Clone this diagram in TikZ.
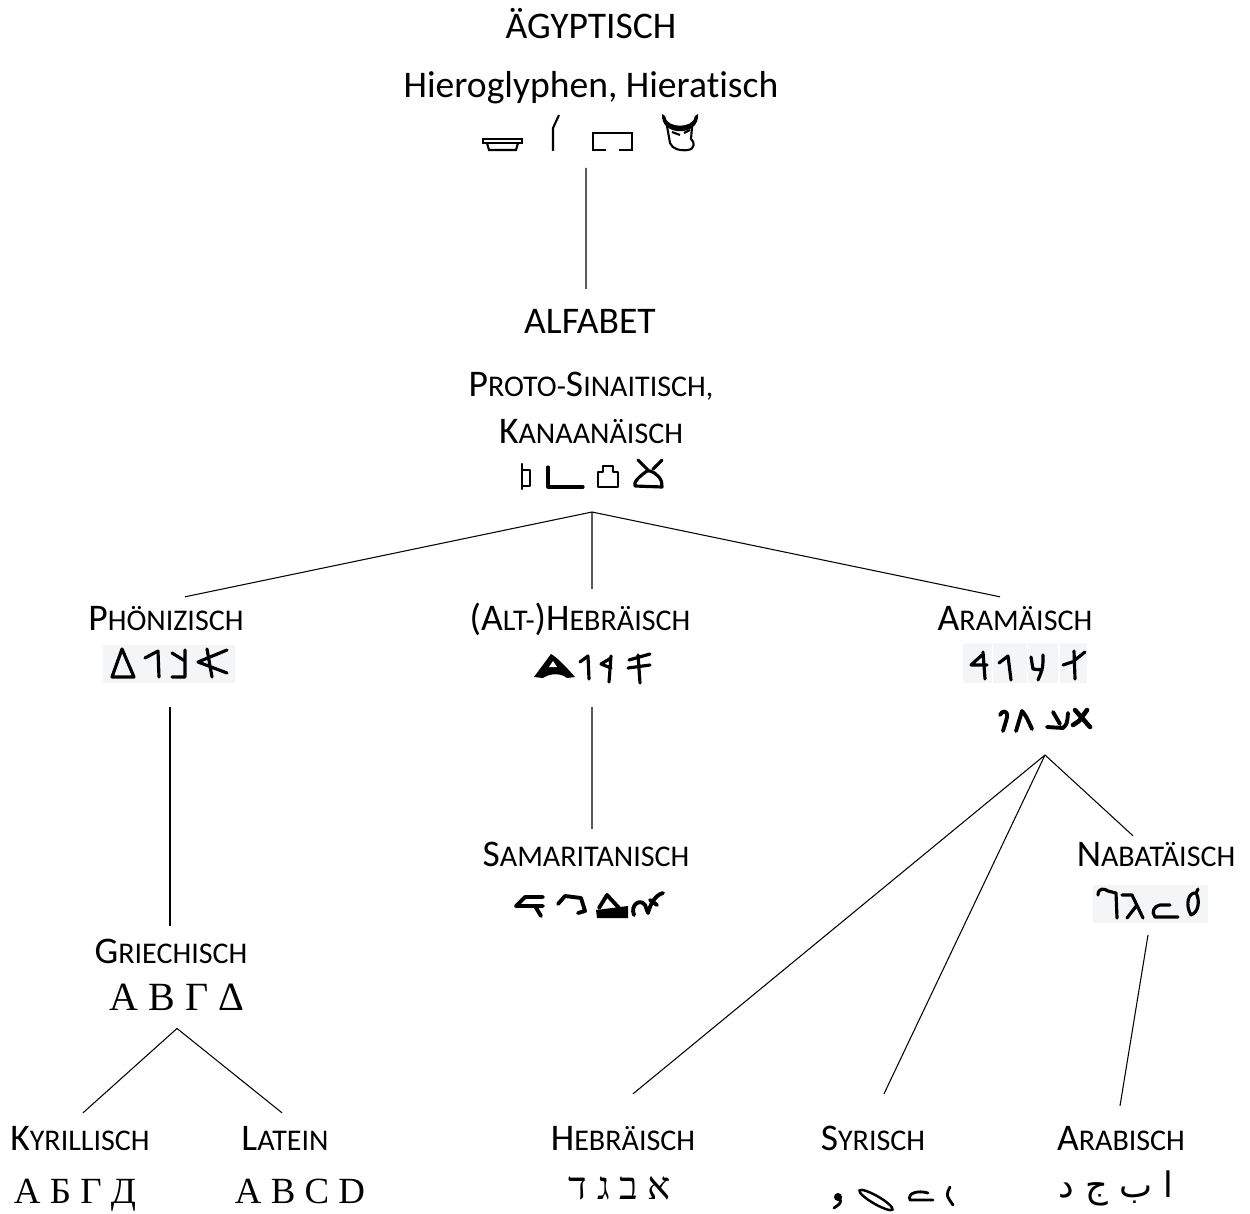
\documentclass[tikz,border=0pt]{standalone}
\usepackage{fontspec}
\setmainfont{Carlito}[Ligatures=CommonOff]
\newfontfamily\serifschrift{Liberation Serif}
\newfontfamily\hebrschrift[Script=Hebrew]{Liberation Serif}
\newfontfamily\arabschrift[Script=Arabic]{DejaVu Sans}
\TeXXeTstate=1
\usetikzlibrary{positioning}
\newcommand{\gross}[1]{{\fontsize{21.4}{25}\selectfont #1}}
\newcommand{\klein}[1]{{\fontsize{17.1}{20}\selectfont #1}}
\definecolor{kasten}{RGB}{244,245,247}
\tikzset{
  schrift/.style={anchor=base, inner sep=0pt, text height=13pt, text depth=0pt, font=\fontsize{21.4}{25}\selectfont},
  buchst/.style={anchor=base, inner sep=0pt, font=\serifschrift\fontsize{21}{25}\selectfont},
  zeichen/.style={inner sep=0pt, outer sep=0pt},
  linie/.style={line width=0.6pt},
  strich/.style={line width=1.8pt, line cap=round, line join=round},
  duenn/.style={line width=1.3pt, line cap=round, line join=round},
  hiero/.style={line width=1.2pt, line join=miter}
}

\begin{document}
\begin{tikzpicture}[x=0.02cm, y=-0.02cm]
\useasboundingbox (0,0) rectangle (1250,1213);

% Aegyptisch
\node[schrift] (aegypt) at (591,39) {ÄGYPTISCH};
\node[schrift] (hierat) at (591,98) {Hieroglyphen, Hieratisch};
\node[zeichen, minimum width=4.6cm, minimum height=1.12cm] (hierozeichen) at (586,140) {};
\draw[hiero] (483,139) rectangle (522,143);
\draw[hiero] (487,143) -- (489,150) -- (516,150) -- (518,143);
\draw[hiero] (553,151) -- (553,128) -- (559,115);
\draw[hiero] (606,150) -- (593,150) -- (593,133) -- (632,133) -- (632,150) -- (619,150);
\fill (662,114) .. controls (660,137) and (700,137) .. (698,114) -- (695,116) .. controls (694,129) and (666,129) .. (665,116) -- cycle; % Hoerner
\draw[hiero] (667,126) -- (670,143) .. controls (672,149) and (680,151) .. (688,150) .. controls (695,149) and (695,142) .. (691,139) -- (692,127);
\draw[hiero] (672,132) -- (680,135) (684,133) -- (690,130);

% Alfabet
\node[schrift] (alfabet) at (590,333) {ALFABET};
\node[schrift] (proto) at (591,396) {\gross{P}\klein{ROTO-}\gross{S}\klein{INAITISCH,}};
\node[schrift] (kanaan) at (591,443) {\gross{K}\klein{ANAANÄISCH}};
\node[zeichen, minimum width=3cm, minimum height=0.96cm] (kanzeichen) at (592,488) {};
\draw[duenn] (522,464) -- (522,489) (522,470) -- (530,470) -- (530,486) -- (522,486);
\draw[strich] (548,467) -- (548,487) -- (583,487);
\draw[duenn] (598,487) -- (598,472) -- (603,472) -- (603,466) -- (613,466) -- (613,472) -- (618,472) -- (618,487) -- cycle;
\draw[strich] (638,460) -- (648,470) (662,460) -- (653,469);
\draw[strich] (647,471) .. controls (640,476) and (633,482) .. (635,486) -- (662,487) .. controls (663,480) and (657,473) .. (650,471) -- cycle;

% Phoenizisch
\node[schrift] (phoen) at (166,630) {\gross{P}\klein{HÖNIZISCH}};
\node[zeichen, minimum width=2.7cm, minimum height=1.24cm] (phoenzeichen) at (170,676) {};
\fill[kasten] (103,645) rectangle (235,683);
\draw[strich] (112,677) -- (122,649) -- (134,677) -- cycle;
\draw[strich] (145,658) -- (158,651) -- (159,677);
\draw[strich] (172,653) -- (185,661) (185,650) -- (185,677) -- (172,677);
\draw[strich] (227,650) -- (198,662) -- (227,673) (207,649) -- (212,677);

% Alt-Hebraeisch
\node[schrift] (althebr) at (580,630) {\gross{(A}\klein{LT-}\gross{)H}\klein{EBRÄISCH}};
\node[zeichen, minimum width=2.7cm, minimum height=1.24cm] (althebrzeichen) at (592,676) {};
\fill (534,677) -- (551,654) .. controls (558,658) and (567,668) .. (575,677) -- (567,678) .. controls (561,673) and (550,673) .. (543,678) -- cycle;
\fill[white] (549,667) -- (553,661) -- (557,667) -- cycle;
\draw[strich] (580,662) -- (588,656) -- (589,679);
\draw[strich] (611,658) -- (601,664) -- (611,668) (611,656) -- (609,682);
\draw[strich] (629,660) -- (650,654) (628,668) -- (650,665) (638,655) -- (640,683);

% Aramaeisch
\node[schrift] (aram) at (1015,630) {\gross{A}\klein{RAMÄISCH}};
\fill[kasten] (963,643) rectangle (992,683) (993,643) rectangle (1027,683)
  (1028,643) rectangle (1058,683) (1060,643) rectangle (1087,683);
\draw[strich] (982,655) -- (971,665) -- (987,665) (983,652) -- (985,679);
\draw[strich] (999,663) -- (1008,656) -- (1011,680);
\draw[strich] (1031,657) -- (1033,669) -- (1042,670) (1043,655) .. controls (1043,668) .. (1038,680);
\draw[strich] (1074,651) -- (1075,679) (1063,665) -- (1075,661) (1075,660) -- (1085,652);
\node[zeichen, minimum width=2cm, minimum height=1cm] (aramzeichen) at (1045,730) {};
\draw[strich, line width=2.2pt] (1000,715) .. controls (1002,710) and (1008,710) .. (1007,717) .. controls (1006,722) and (1004,727) .. (1003,731);
\draw[strich, line width=2.2pt] (1016,731) -- (1022,711) .. controls (1026,716) .. (1032,729);
\draw[strich, line width=2.2pt] (1047,727) -- (1063,728) .. controls (1067,724) .. (1068,713) (1053,712) .. controls (1056,718) .. (1060,724);
\draw[strich, line width=2.6pt] (1075,710) -- (1090,727) (1087,710) -- (1079,721) (1079,721) -- (1073,725);

% Samaritanisch
\node[schrift] (samar) at (586,866) {\gross{S}\klein{AMARITANISCH}};
\draw[strich, line width=2.2pt] (543,897) -- (525,897) -- (516,906) -- (543,906) (535,906) -- (541,916);
\draw[strich, line width=2.2pt] (558,904) -- (565,896) -- (581,898) -- (585,911) -- (578,913);
\draw[strich, line width=2.2pt] (599,908) -- (607,895) -- (619,908);
\fill (596,910) -- (628,906) -- (628,918) -- (597,918) -- cycle;
\draw[strich, line width=2.2pt] (634,915) .. controls (630,905) and (640,898) .. (645,905) -- (648,913) .. controls (650,905) and (655,895) .. (663,893) (650,900) -- (657,905);

% Nabataeisch
\node[schrift] (nabat) at (1156,866) {\gross{N}\klein{ABATÄISCH}};
\node[zeichen, minimum width=2.3cm, minimum height=1.2cm] (nabatzeichen) at (1148,905) {};
\fill[kasten] (1093,885) rectangle (1208,923);
\draw[strich] (1098,895) .. controls (1098,888) and (1104,888) .. (1108,891) -- (1116,893) -- (1117,918);
\draw[strich] (1122,895) -- (1132,895) -- (1143,918) (1137,905) -- (1127,918);
\draw[strich] (1170,905) -- (1160,905) .. controls (1154,906) and (1151,912) .. (1155,917) -- (1178,917);
\draw[strich] (1191,915) .. controls (1185,905) and (1188,892) .. (1196,893) .. controls (1200,900) and (1199,912) .. (1191,915) (1196,893) -- (1198,889);

% Griechisch
\node[schrift] (griech) at (171,963) {\gross{G}\klein{RIECHISCH}};
\node[buchst, font=\serifschrift\fontsize{22.8}{26}\selectfont] (griechz) at (177,1010) {Α Β Γ Δ};

% untere Reihe
\node[schrift] (kyrill) at (80,1150) {\gross{K}\klein{YRILLISCH}};
\node[buchst] (kyrillz) at (75,1203) {А Б Г Д};
\node[schrift] (latein) at (285,1150) {\gross{L}\klein{ATEIN}};
\node[buchst] (lateinz) at (300,1203) {A B C D};
\node[schrift] (hebr) at (623,1150) {\gross{H}\klein{EBRÄISCH}};
\node[buchst, font=\hebrschrift\fontsize{22}{26}\selectfont] (hebrz) at (620,1199) {\beginR א ב ג ד\endR};
\node[schrift] (syr) at (873,1150) {\gross{S}\klein{YRISCH}};
\fill (838,1197) circle (4);
\draw[strich, line width=1.6pt] (840,1198) .. controls (841,1203) .. (834,1208);
\draw[line width=1.4pt, rotate around={-30:(876,1200)}] (876,1200) ellipse (19 and 4);
\draw[strich, line width=1.6pt] (928,1193) .. controls (918,1190) and (907,1193) .. (910,1200) -- (933,1200);
\draw[strich, line width=1.6pt] (950,1187) .. controls (946,1195) .. (953,1205);
\node[schrift] (arab) at (1121,1150) {\gross{A}\klein{RABISCH}};
\node[buchst, font=\arabschrift\fontsize{20}{24}\selectfont] (arabz) at (1116,1197) {\beginR ا ب ج د\endR};

% Verbindungen
\draw[linie] (hierozeichen.south) -- ([xshift=-0.08cm, yshift=0.42cm]alfabet.north);
\draw[linie] (kanzeichen.south) -- ([xshift=0.38cm, yshift=0.2cm]phoen.north);
\draw[linie] (kanzeichen.south) -- ([xshift=0.24cm, yshift=0.36cm]althebr.north);
\draw[linie] (kanzeichen.south) -- ([xshift=-0.3cm, yshift=0.2cm]aram.north);
\draw[linie] (phoenzeichen.south) -- ([xshift=-0.02cm, yshift=0.28cm]griech.north);
\draw[linie] (althebrzeichen.south) -- ([xshift=0.12cm, yshift=0.28cm]samar.north);
\draw[linie] (aramzeichen.south) -- ([xshift=0.2cm, yshift=0.66cm]hebr.north);
\draw[linie] (aramzeichen.south) -- ([xshift=0.22cm, yshift=0.66cm]syr.north);
\draw[linie] (aramzeichen.south) -- ([xshift=-0.46cm, yshift=0.14cm]nabat.north);
\draw[linie] (nabatzeichen.south) -- ([xshift=-0.02cm, yshift=0.42cm]arab.north);
\draw[linie] ([yshift=-0.36cm]griechz.south) -- ([xshift=0.06cm, yshift=0.28cm]kyrill.north);
\draw[linie] ([yshift=-0.36cm]griechz.south) -- ([xshift=-0.06cm, yshift=0.28cm]latein.north);
\end{tikzpicture}
\end{document}
